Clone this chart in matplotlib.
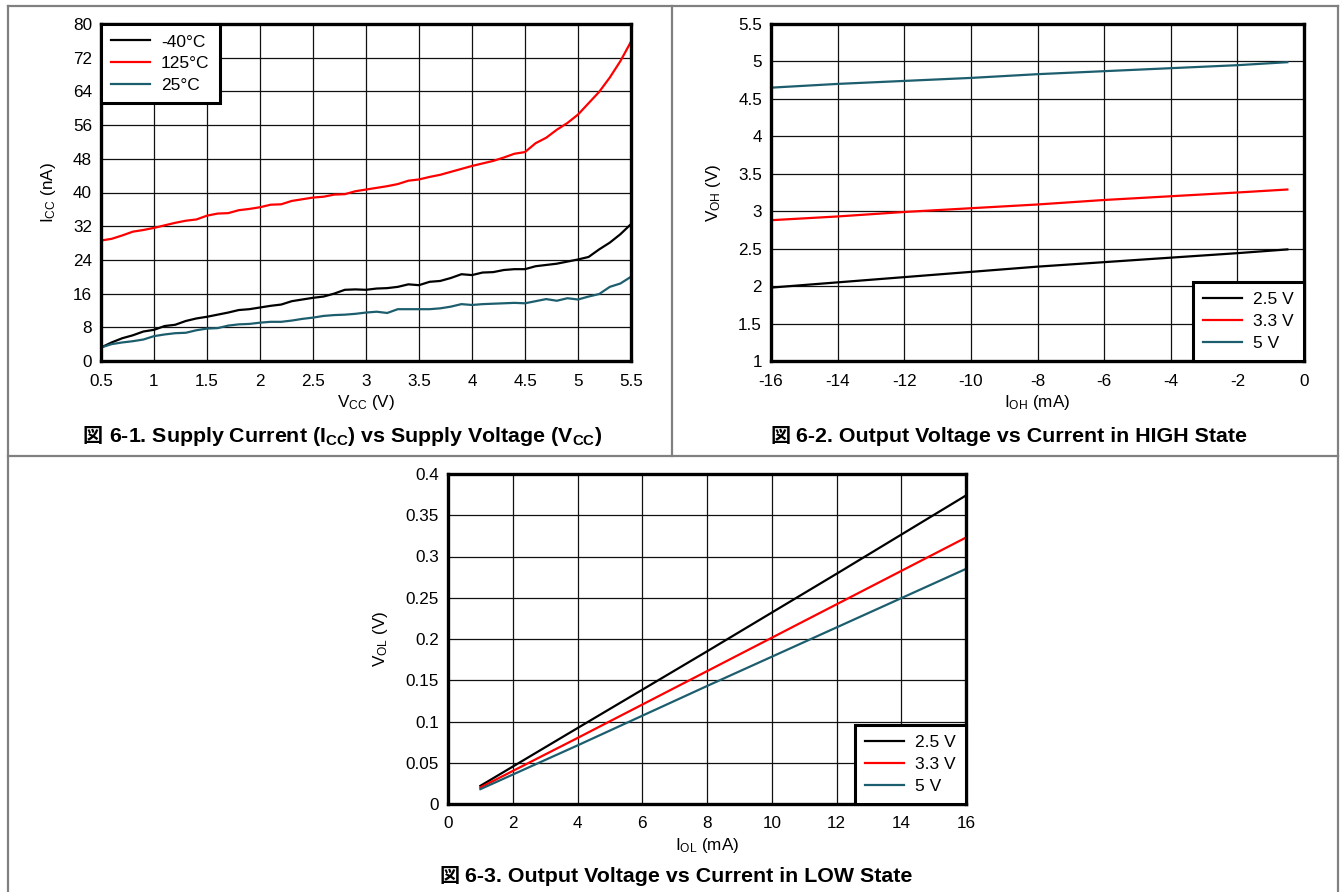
import matplotlib
matplotlib.use('Agg')
import matplotlib.pyplot as plt
from matplotlib.lines import Line2D
from matplotlib.ticker import FuncFormatter

plt.rcParams['font.family'] = ['Liberation Sans', 'Noto Sans CJK JP', 'DejaVu Sans']
plt.rcParams['mathtext.fontset'] = 'custom'
plt.rcParams['mathtext.rm'] = 'Liberation Sans'
plt.rcParams['mathtext.it'] = 'Liberation Sans:italic'
plt.rcParams['mathtext.bf'] = 'Liberation Sans:bold'

# --- data: supply current vs supply voltage ---
vcc = [0.5, 0.6, 0.7, 0.8, 0.9, 1.0, 1.1, 1.2, 1.3, 1.4, 1.5, 1.6, 1.7, 1.8, 1.9,
       2.0, 2.1, 2.2, 2.3, 2.4, 2.5, 2.6, 2.7, 2.8, 2.9, 3.0, 3.1, 3.2, 3.3, 3.4,
       3.5, 3.6, 3.7, 3.8, 3.9, 4.0, 4.1, 4.2, 4.3, 4.4, 4.5, 4.6, 4.7, 4.8, 4.9,
       5.0, 5.1, 5.2, 5.3, 5.4, 5.5]
icc_m40 = [3.2, 4.4, 5.4, 6.1, 7.0, 7.4, 8.3, 8.6, 9.5, 10.1, 10.5, 11.0, 11.5, 12.1, 12.3,
           12.7, 13.1, 13.4, 14.2, 14.6, 15.0, 15.3, 16.0, 16.9, 17.0, 16.9, 17.2, 17.3, 17.6, 18.2,
           18.0, 18.8, 19.0, 19.7, 20.6, 20.4, 21.0, 21.1, 21.6, 21.8, 21.8, 22.5, 22.8, 23.1, 23.6,
           24.1, 24.7, 26.5, 28.1, 30.1, 32.5]
icc_125 = [28.6, 29.0, 29.8, 30.7, 31.1, 31.6, 32.2, 32.8, 33.3, 33.6, 34.5, 35.0, 35.1, 35.8, 36.1,
           36.5, 37.1, 37.2, 38.0, 38.4, 38.8, 39.0, 39.5, 39.6, 40.3, 40.7, 41.1, 41.5, 42.0, 42.8,
           43.1, 43.7, 44.2, 44.9, 45.6, 46.3, 46.9, 47.5, 48.3, 49.2, 49.6, 51.7, 53.0, 54.9, 56.5,
           58.5, 61.2, 63.9, 67.3, 71.2, 75.8]
icc_25 = [3.2, 4.0, 4.4, 4.7, 5.1, 5.9, 6.3, 6.6, 6.7, 7.3, 7.7, 7.8, 8.4, 8.7, 8.8,
          9.1, 9.3, 9.3, 9.6, 10.0, 10.3, 10.7, 10.9, 11.0, 11.2, 11.5, 11.7, 11.4, 12.3, 12.3,
          12.3, 12.3, 12.5, 12.9, 13.5, 13.3, 13.5, 13.6, 13.7, 13.8, 13.7, 14.2, 14.7, 14.3, 14.9,
          14.6, 15.3, 15.9, 17.6, 18.4, 20.0]

# --- data: output high ---
ioh = [-16, -14, -12, -10, -8, -6, -4, -2, -0.5]
voh_25 = [1.98, 2.05, 2.12, 2.19, 2.26, 2.32, 2.38, 2.44, 2.49]
voh_33 = [2.88, 2.93, 2.99, 3.04, 3.09, 3.15, 3.20, 3.25, 3.29]
voh_50 = [4.65, 4.70, 4.74, 4.78, 4.83, 4.87, 4.91, 4.95, 4.99]

# --- data: output low ---
iol = [1, 4, 8, 12, 16]
vol_25 = [0.022, 0.092, 0.185, 0.279, 0.374]
vol_33 = [0.020, 0.080, 0.161, 0.242, 0.323]
vol_50 = [0.018, 0.071, 0.143, 0.214, 0.285]

RED = '#ff0000'
TEAL = '#1d5e6e'
W, H = 1340, 892
FS = 12.3


def rect(l, t, r, b):
    return [l / W, 1 - b / H, (r - l) / W, (b - t) / H]


def style(ax, xlim, ylim, xticks, yticks):
    ax.set_xlim(xlim)
    ax.set_ylim(ylim)
    ax.set_xticks(xticks)
    ax.set_yticks(yticks)
    fmt = FuncFormatter(lambda v, p: f'{v:g}')
    ax.xaxis.set_major_formatter(fmt)
    ax.yaxis.set_major_formatter(fmt)
    ax.grid(True, color='#111111', lw=0.9)
    ax.set_axisbelow(True)
    ax.tick_params(length=0, labelsize=FS)
    ax.tick_params(axis='x', pad=9)
    ax.tick_params(axis='y', pad=6.5)
    for s in ax.spines.values():
        s.set_linewidth(2.4)


def legend(ax, loc):
    leg = ax.legend(loc=loc, borderaxespad=0, fancybox=False, framealpha=1,
                    edgecolor='black', fontsize=12.5, handlelength=2.2,
                    handletextpad=0.65, labelspacing=0.38, borderpad=0.6)
    leg.get_frame().set_linewidth(2.2)
    return leg


fig = plt.figure(figsize=(13.4, 8.92), dpi=100)

# panel frame
fc = '#808080'
for xs, ys in [([8, 1338], [6, 6]), ([8, 1338], [456, 456]), ([8, 8], [6, 892]),
               ([1338, 1338], [6, 892]), ([672, 672], [6, 456])]:
    fig.add_artist(Line2D([x / W for x in xs], [1 - y / H for y in ys],
                          color=fc, lw=1.6, transform=fig.transFigure))

lw = 1.6
ax1 = fig.add_axes(rect(101, 24, 631, 361))
ax1.plot(vcc, icc_m40, color='black', lw=lw, label='-40°C')
ax1.plot(vcc, icc_125, color=RED, lw=lw, label='125°C')
ax1.plot(vcc, icc_25, color=TEAL, lw=lw, label='25°C')
style(ax1, (0.5, 5.5), (0, 80), [0.5 * k for k in range(1, 12)], range(0, 81, 8))
ax1.set_xlabel(r'V$_\mathrm{CC}$ (V)', fontsize=FS, labelpad=3)
ax1.set_ylabel(r'I$_\mathrm{CC}$ (nA)', fontsize=FS, labelpad=11)
legend(ax1, 'upper left')

ax2 = fig.add_axes(rect(771, 24, 1304, 361))
ax2.plot(ioh, voh_25, color='black', lw=lw, label='2.5 V')
ax2.plot(ioh, voh_33, color=RED, lw=lw, label='3.3 V')
ax2.plot(ioh, voh_50, color=TEAL, lw=lw, label='5 V')
style(ax2, (-16, 0), (1, 5.5), range(-16, 1, 2), [1 + 0.5 * k for k in range(10)])
ax2.set_xlabel(r'I$_\mathrm{OH}$ (mA)', fontsize=FS, labelpad=3)
ax2.set_ylabel(r'V$_\mathrm{OH}$ (V)', fontsize=FS, labelpad=11)
legend(ax2, 'lower right')

ax3 = fig.add_axes(rect(448, 474, 966, 804))
ax3.plot(iol, vol_25, color='black', lw=lw, label='2.5 V')
ax3.plot(iol, vol_33, color=RED, lw=lw, label='3.3 V')
ax3.plot(iol, vol_50, color=TEAL, lw=lw, label='5 V')
style(ax3, (0, 16), (0, 0.4), range(0, 17, 2), [0.05 * k for k in range(9)])
ax3.set_xlabel(r'I$_\mathrm{OL}$ (mA)', fontsize=FS, labelpad=3)
ax3.set_ylabel(r'V$_\mathrm{OL}$ (V)', fontsize=FS, labelpad=11)
legend(ax3, 'lower right')

# captions
captions = [
    (83, 442, r'6-1. Supply Current (I$_\mathbf{CC}$) vs Supply Voltage (V$_\mathbf{CC}$)'),
    (770, 442, '6-2. Output Voltage vs Current in HIGH State'),
    (439, 882, '6-3. Output Voltage vs Current in LOW State'),
]
for x, y, txt in captions:
    fig.text(x / W, 1 - y / H, '図', family='Noto Sans CJK JP',
             fontsize=14.5, fontweight='bold', va='baseline')
    fig.text((x + 26) / W, 1 - y / H, txt, family='Liberation Sans',
             fontsize=15.4, fontweight='bold', va='baseline')

fig.savefig('out.png', dpi=100)
